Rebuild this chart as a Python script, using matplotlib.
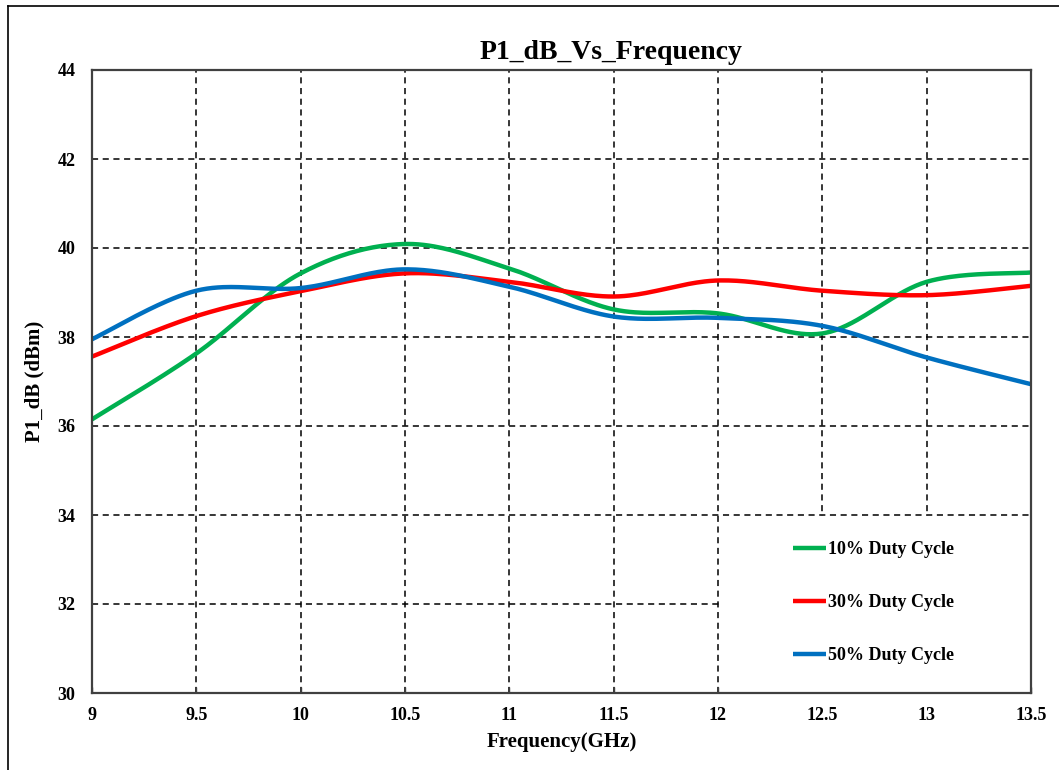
import numpy as np
import matplotlib
matplotlib.use("Agg")
import matplotlib.pyplot as plt
from matplotlib.lines import Line2D
from matplotlib.patches import Rectangle

# ── data ──────────────────────────────────────────────────────────────────────
freq = [9, 9.5, 10, 10.5, 11, 11.5, 12, 12.5, 13, 13.5]
duty10 = [36.15, 37.63, 39.43, 40.09, 39.54, 38.62, 38.53, 38.08, 39.24, 39.45]
duty30 = [37.56, 38.47, 39.03, 39.43, 39.24, 38.91, 39.27, 39.04, 38.94, 39.15]
duty50 = [37.95, 39.04, 39.10, 39.52, 39.13, 38.46, 38.43, 38.25, 37.54, 36.94]
labels = ["10% Duty Cycle", "30% Duty Cycle", "50% Duty Cycle"]
colors = ["#00B050", "#FF0000", "#0070C0"]

xticks = [9, 9.5, 10, 10.5, 11, 11.5, 12, 12.5, 13, 13.5]
xtick_labels = ["9", "9.5", "10", "10.5", "11", "11.5", "12", "12.5", "13", "13.5"]
yticks = [30, 32, 34, 36, 38, 40, 42, 44]

plt.rcParams.update({
    "font.family": "serif",
    "font.serif": ["Liberation Serif", "DejaVu Serif"],
    "font.weight": "bold",
})


def smooth(x, y, n=40):
    """Excel-style smoothed line: Bezier segments with Catmull-Rom handles."""
    pts = np.column_stack([x, y]).astype(float)
    p = np.vstack([pts[0], pts, pts[-1]])
    t = np.linspace(0, 1, n)[:, None]
    segs = []
    for i in range(1, len(p) - 2):
        p0, p1, p2, p3 = p[i - 1], p[i], p[i + 1], p[i + 2]
        c1 = p1 + (p2 - p0) / 6
        c2 = p2 - (p3 - p1) / 6
        seg = ((1 - t) ** 3) * p1 + 3 * (1 - t) ** 2 * t * c1 \
            + 3 * (1 - t) * t ** 2 * c2 + t ** 3 * p2
        segs.append(seg)
    s = np.vstack(segs)
    return s[:, 0], s[:, 1]


fig = plt.figure(figsize=(10.59, 7.70), dpi=100)
ax = fig.add_axes([92 / 1059, 1 - 693 / 770, (1031 - 92) / 1059, (693 - 70) / 770])

for ys, lbl, c in zip([duty10, duty30, duty50], labels, colors):
    sx, sy = smooth(freq, ys)
    ax.plot(sx, sy, color=c, lw=3.2, label=lbl, solid_capstyle="butt")

ax.set_xlim(9, 13.5)
ax.set_ylim(30, 44)
ax.set_xticks(xticks)
ax.set_xticklabels(xtick_labels)
ax.set_yticks(yticks)
ax.grid(True, color="black", linestyle=(0, (4, 3)), linewidth=1.1)
ax.set_axisbelow(True)
ax.tick_params(axis="x", direction="in", length=4, width=1, color="#404040",
               labelsize=13, pad=10)
ax.tick_params(axis="y", length=0, labelsize=13, pad=12)
for t in ax.get_xticklabels() + ax.get_yticklabels():
    t.set_fontweight("bold")
for sp in ax.spines.values():
    sp.set_color("#404040")
    sp.set_linewidth(1.6)

ax.set_xlabel("Frequency(GHz)", fontsize=15, fontweight="bold", labelpad=6)
ax.set_ylabel("P1_dB (dBm)", fontsize=15, fontweight="bold", labelpad=9)
ax.set_title("P1_dB_Vs_Frequency", fontsize=20, fontweight="bold", pad=8,
             x=0.553)

# white legend area hiding the grid (Excel plot-area legend)
ax.add_patch(Rectangle((0.669, 0.0), 0.331, 0.284, transform=ax.transAxes,
                       facecolor="white", edgecolor="none", zorder=0.8))
leg = ax.legend(loc="lower right", bbox_to_anchor=(0.935, 0.02), frameon=False,
                prop={"size": 13, "weight": "bold"}, handlelength=1.8,
                handletextpad=0.1, labelspacing=2.0)

# chart-area border (left and top edges visible in the reference)
fig.add_artist(Line2D([8 / 1059, 8 / 1059], [0, 1 - 6 / 770],
                      transform=fig.transFigure, color="black", lw=1.2))
fig.add_artist(Line2D([8 / 1059, 1], [1 - 6 / 770, 1 - 6 / 770],
                      transform=fig.transFigure, color="black", lw=1.2))

fig.savefig("out.png", dpi=100)
